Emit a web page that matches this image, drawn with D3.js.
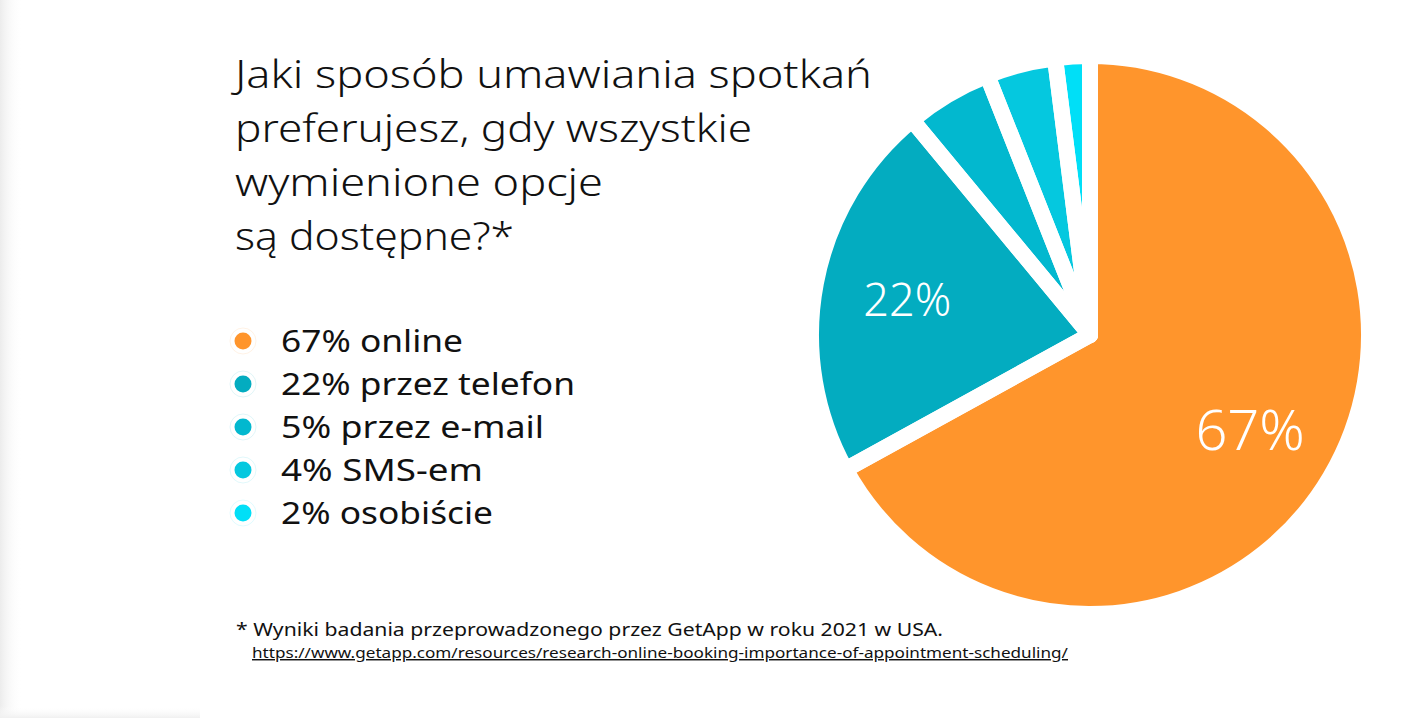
<!DOCTYPE html>
<html>
<head>
<meta charset="utf-8">
<script src="https://cdn.jsdelivr.net/npm/d3@7"></script>
<style>
  html, body { margin: 0; padding: 0; background: #fff; }
  svg { display: block; }
</style>
</head>
<body>
<svg id="chart" width="1424" height="718"></svg>
<script>
// ---- data ----
const categories = ["online", "przez telefon", "przez e-mail", "SMS-em", "osobiście"];
const values = [67, 22, 5, 4, 2];
const colors = ["#FF952C", "#03ACC0", "#02B8CF", "#05C8DF", "#00DFF7"];
const titleLines = ["Jaki sposób umawiania spotkań", "preferujesz, gdy wszystkie", "wymienione opcje", "są dostępne?*"];
const footnote = "* Wyniki badania przeprowadzonego przez GetApp w roku 2021 w USA.";
const sourceUrl = "https://www.getapp.com/resources/research-online-booking-importance-of-appointment-scheduling/";

const svg = d3.select("#chart");
const W = 1424, H = 718;

// faint page shadow on left / bottom edges
const defs = svg.append("defs");
const gl = defs.append("linearGradient").attr("id", "shL").attr("x1", 0).attr("x2", 1).attr("y1", 0).attr("y2", 0);
gl.append("stop").attr("offset", 0).attr("stop-color", "#ececec");
gl.append("stop").attr("offset", 1).attr("stop-color", "#ffffff").attr("stop-opacity", 0);
svg.append("rect").attr("x", 0).attr("y", 0).attr("width", 22).attr("height", H).attr("fill", "url(#shL)");
const gb = defs.append("linearGradient").attr("id", "shB").attr("x1", 0).attr("x2", 0).attr("y1", 0).attr("y2", 1);
gb.append("stop").attr("offset", 0).attr("stop-color", "#ffffff").attr("stop-opacity", 0);
gb.append("stop").attr("offset", 1).attr("stop-color", "#f0f0f0");
svg.append("rect").attr("x", 0).attr("y", 706).attr("width", 200).attr("height", 12).attr("fill", "url(#shB)");

const font = "'Noto Sans', 'Open Sans', sans-serif";

// ---- title ----
const titleWidths = [637, 517, 368, 279];
svg.append("g").selectAll("text").data(titleLines).join("text")
  .attr("x", 235)
  .attr("y", (d, i) => 88 + i * 54)
  .attr("font-family", font)
  .attr("font-size", 39)
  .attr("font-weight", 300)
  .attr("fill", "#111")
  .attr("textLength", (d, i) => titleWidths[i])
  .attr("lengthAdjust", "spacingAndGlyphs")
  .text(d => d);

// ---- legend ----
const legendWidths = [182, 294, 263, 202, 212];
const leg = svg.append("g").selectAll("g").data(categories).join("g")
  .attr("transform", (d, i) => `translate(243, ${341 + i * 43})`);
leg.append("circle").attr("r", 13).attr("fill", "none")
  .attr("stroke", (d, i) => colors[i]).attr("stroke-opacity", 0.12).attr("stroke-width", 1);
leg.append("circle").attr("r", 8.5).attr("fill", (d, i) => colors[i]);
leg.append("text")
  .attr("x", 38).attr("y", 11)
  .attr("font-family", font)
  .attr("font-size", 30)
  .attr("fill", "#111")
  .attr("textLength", (d, i) => legendWidths[i])
  .attr("lengthAdjust", "spacingAndGlyphs")
  .text((d, i) => `${values[i]}% ${d}`);

// ---- pie ----
const cx = 1090, cy = 335;
const pie = d3.pie().sort(null).value(d => d);
const arcs = pie(values);
const arc = d3.arc().innerRadius(0).outerRadius(279);
const labelArc = d3.arc().innerRadius(186).outerRadius(186);
const gp = svg.append("g").attr("transform", `translate(${cx},${cy})`);
gp.selectAll("path").data(arcs).join("path")
  .attr("d", arc)
  .attr("fill", (d, i) => colors[i]);
gp.selectAll("path.sep").data(arcs).join("path")
  .attr("class", "sep")
  .attr("d", arc)
  .attr("fill", "none")
  .attr("stroke", "#fff")
  .attr("stroke-width", 16)
  .attr("stroke-linejoin", "round");

const labelSizes = [56, 45];
gp.selectAll("text").data(arcs.filter(d => d.value >= 10)).join("text")
  .attr("transform", d => `translate(${labelArc.centroid(d)})`)
  .attr("text-anchor", "middle")
  .attr("dy", "0.36em")
  .attr("font-family", font)
  .attr("font-weight", 300)
  .attr("font-size", (d, i) => labelSizes[i])
  .attr("fill", "#fff")
  .text(d => `${d.value}%`);

// ---- footnote ----
svg.append("text")
  .attr("x", 236).attr("y", 636)
  .attr("font-family", font)
  .attr("font-size", 18)
  .attr("fill", "#111")
  .attr("textLength", 707)
  .attr("lengthAdjust", "spacingAndGlyphs")
  .text(footnote);
svg.append("text")
  .attr("x", 252).attr("y", 658)
  .attr("font-family", font)
  .attr("font-size", 14.5)
  .attr("fill", "#111")
  .attr("text-decoration", "underline")
  .attr("textLength", 816)
  .attr("lengthAdjust", "spacingAndGlyphs")
  .text(sourceUrl);
</script>
</body>
</html>
